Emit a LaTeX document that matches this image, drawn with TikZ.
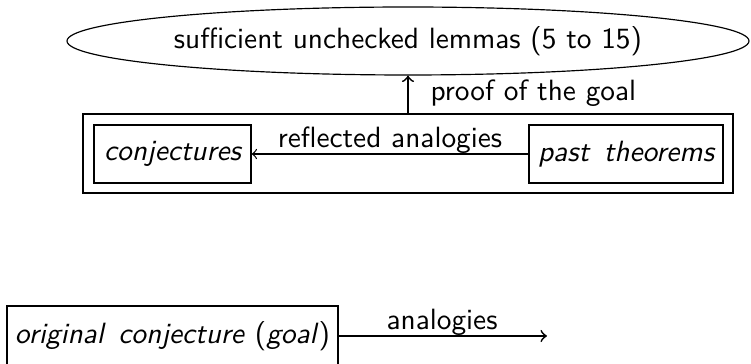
\documentclass[tikz,border=0pt]{standalone}
\usetikzlibrary{shapes.geometric}
\newcommand{\pxu}{0.341pt}
\newcommand{\wsp}{\hspace{0.5em}}
\begin{document}
\begin{tikzpicture}[x=0.341pt,y=-0.341pt,
  font=\sffamily,
  box/.style={draw,rectangle,inner sep=0pt,line width=0.4pt},
  conn/.style={->,line width=0.6pt},
  thinconn/.style={->,line width=0.4pt},
  lbl/.style={inner sep=0pt}]
\useasboundingbox (0,0) rectangle (751,364);
\node[draw,ellipse,inner sep=0pt,minimum width={682*\pxu},minimum height={68*\pxu}] (lem) at (408,41) {sufficient unchecked lemmas (5 to 15)};
\node[box,minimum width={650*\pxu},minimum height={79*\pxu}] (outer) at (408,153.5) {};
\node[box,minimum width={157*\pxu},minimum height={58*\pxu}] (conj) at (172.5,154) {\itshape conjectures};
\node[box,minimum width={194*\pxu},minimum height={58*\pxu}] (past) at (626,154) {\itshape past\wsp theorems};
\draw[conn] (outer.north) -- (lem.south);
\node[lbl,anchor=west] (proof) at (430,93) {proof of the goal};
\draw[thinconn] (past.west) -- (conj.east);
\node[lbl] (refl) at (390,140) {reflected analogies};
\node[box,minimum width={331*\pxu},minimum height={60*\pxu}] (orig) at (172.5,336) {\textit{original\wsp conjecture} (\textit{goal})};
\coordinate (end) at (547,336);
\draw[conn] (orig.east) -- (end);
\node[lbl] (ana) at (442,322) {analogies};
\end{tikzpicture}
\end{document}
